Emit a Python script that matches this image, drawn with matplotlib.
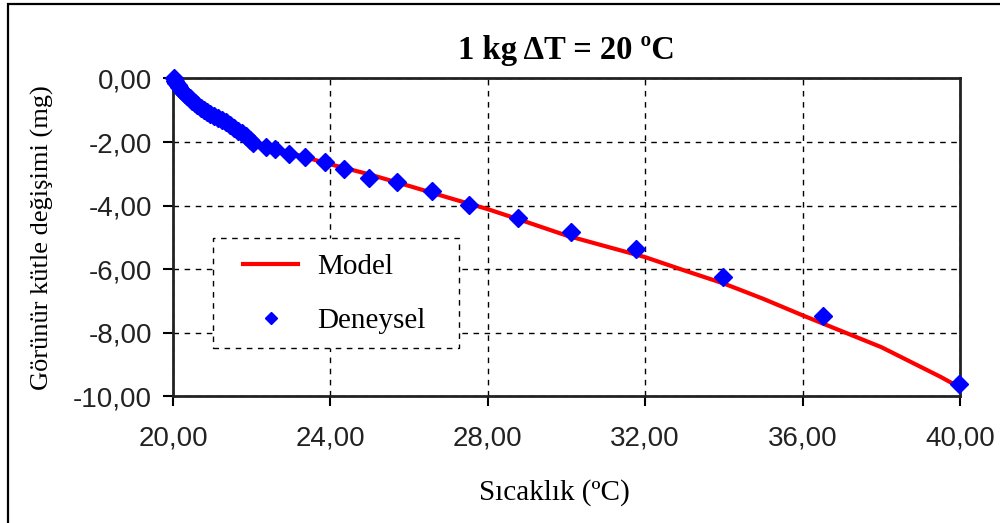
import numpy as np
import matplotlib
matplotlib.use("Agg")
import matplotlib.pyplot as plt
from matplotlib.patches import Rectangle
from matplotlib.ticker import FuncFormatter

# experimental points (Deneysel)
exp_T = [20.02, 20.05, 20.08, 20.12, 20.16, 20.20, 20.25, 20.30, 20.36, 20.42,
         20.48, 20.55, 20.62, 20.70, 20.78, 20.86, 20.95, 21.05, 21.15, 21.25,
         21.35, 21.45, 21.55, 21.65, 21.75, 21.85, 21.95,
         22.03, 22.36, 22.59, 22.95, 23.35, 23.86, 24.35, 24.98, 25.69, 26.58,
         27.52, 28.77, 30.11, 31.77, 33.98, 36.52, 39.98]
exp_dm = [0.00, -0.08, -0.14, -0.21, -0.28, -0.35, -0.42, -0.49, -0.56, -0.63,
          -0.70, -0.77, -0.84, -0.92, -0.99, -1.06, -1.13, -1.19, -1.25, -1.31,
          -1.38, -1.46, -1.55, -1.64, -1.73, -1.82, -1.93,
          -2.03, -2.15, -2.22, -2.37, -2.47, -2.63, -2.85, -3.13, -3.25, -3.54,
          -3.98, -4.39, -4.83, -5.36, -6.24, -7.47, -9.61]

# model curve
mod_T = [20.0, 20.5, 21.0, 21.5, 22.0, 23.0, 24.0, 25.0, 26.0, 27.0, 28.0, 29.0,
         30.0, 31.0, 32.0, 33.0, 34.0, 35.0, 36.0, 37.0, 37.5, 38.0, 38.5, 39.0, 39.5, 40.0]
mod_dm = [0.0, -0.72, -1.18, -1.52, -1.98, -2.35, -2.70, -3.02, -3.38, -3.75, -4.11, -4.52,
          -4.94, -5.28, -5.62, -6.04, -6.45, -6.93, -7.45, -7.95, -8.20, -8.45, -8.76,
          -9.07, -9.38, -9.72]

serif = ["Liberation Serif", "DejaVu Serif"]
sans = ["Liberation Sans", "DejaVu Sans"]

fig = plt.figure(figsize=(10, 5.23), dpi=100)
ax = fig.add_axes([0.173, 0.242, 0.787, 0.608])

ax.plot(mod_T, mod_dm, color="#FF0000", lw=3, label="Model", zorder=3)
ax.plot(exp_T, exp_dm, "D", color="#0000FF", ms=9, mec="#0000FF", label="Deneysel",
        zorder=4, clip_on=False)

ax.set_xlim(20, 40); ax.set_ylim(-10, 0)
ax.set_xticks(np.arange(20, 41, 4)); ax.set_yticks(np.arange(-10, 0.1, 2))
fmt = FuncFormatter(lambda v, p: f"{v:.2f}".replace(".", ","))
ax.xaxis.set_major_formatter(fmt); ax.yaxis.set_major_formatter(fmt)
for lab in ax.get_xticklabels() + ax.get_yticklabels():
    lab.set_family(sans); lab.set_fontsize(20); lab.set_color("#222222")
ax.tick_params(direction="out", length=7, width=1.5, pad=8)
ax.tick_params(axis="x", pad=14)

ax.grid(True, color="black", ls=(0, (4, 4)), lw=1.0)
for s in ax.spines.values():
    s.set_linewidth(2); s.set_color("#222222")

ax.set_title("1 kg ΔT = 20 ºC", fontsize=23.5, fontweight="bold", family=serif, pad=14)
ax.set_xlabel("Sıcaklık (ºC)", fontsize=21, family=serif, labelpad=20)
ax.xaxis.set_label_coords(0.484, -0.26)
ax.set_ylabel("Görünür kütle değişimi (mg)", fontsize=19, family=serif, labelpad=14)

# legend frame drawn by hand (dashed box, wider than the default)
ax.add_patch(Rectangle((0.0508, 0.1525), 0.3126, 0.346, transform=ax.transAxes,
                       fc="white", ec="black", lw=1.0, ls=(0, (4, 4)), zorder=5))
leg = ax.legend(loc="center left", bbox_to_anchor=(0.089, 0.322), frameon=False,
                prop={"family": serif, "size": 21}, handlelength=1.9, handletextpad=0.65,
                borderpad=0, labelspacing=0.95, markerscale=0.7, borderaxespad=0)
leg.set_zorder(6)

# outer chart border
fig.patches.append(Rectangle((0.008, -0.5), 1.5, 0.5 + 0.9924, transform=fig.transFigure,
                             fill=False, ec="black", lw=1.6, clip_on=False))

plt.savefig("out.png", dpi=100)
